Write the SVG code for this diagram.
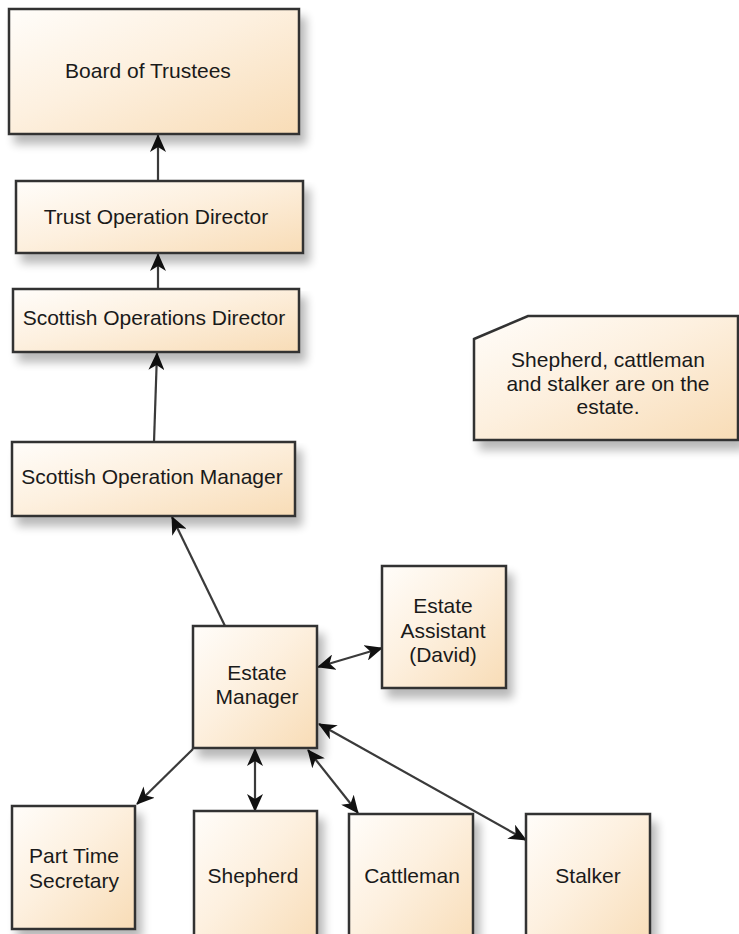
<svg xmlns="http://www.w3.org/2000/svg" width="739" height="934" viewBox="0 0 739 934">
  <defs>
    <linearGradient id="fill" x1="0" y1="0" x2="1" y2="1">
      <stop offset="0" stop-color="#fffdfa"/>
      <stop offset="0.45" stop-color="#fdf0df"/>
      <stop offset="1" stop-color="#f8dcb6"/>
    </linearGradient>
    <filter id="shadow" x="-10%" y="-10%" width="130%" height="140%">
      <feGaussianBlur in="SourceAlpha" stdDeviation="5"/>
      <feOffset dx="6" dy="9" result="b"/>
      <feComponentTransfer><feFuncA type="linear" slope="0.28"/></feComponentTransfer>
      <feMerge><feMergeNode/><feMergeNode in="SourceGraphic"/></feMerge>
    </filter>
    <marker id="arr" viewBox="0 0 18 16" refX="17" refY="8" markerWidth="18" markerHeight="16" markerUnits="userSpaceOnUse" orient="auto-start-reverse">
      <path d="M0,0 L18,8 L0,16 L5,8 z" fill="#111"/>
    </marker>
  </defs>
  <style>
    .box { fill: url(#fill); stroke: #333; stroke-width: 2.5; filter: url(#shadow); }
    .lbl { font-family: "Liberation Sans", Arial, sans-serif; font-size: 21px; fill: #1a1a1a; text-anchor: middle; }
    .con { stroke: #3a3a3a; stroke-width: 2.2; fill: none; }
  </style>
  <rect width="739" height="934" fill="#fff"/>

  <g id="connectors">
    <line class="con" x1="158" y1="181" x2="158" y2="135" marker-end="url(#arr)"/>
    <line class="con" x1="158" y1="289" x2="158" y2="254" marker-end="url(#arr)"/>
    <line class="con" x1="154" y1="442" x2="157" y2="353" marker-end="url(#arr)"/>
    <line class="con" x1="225" y1="626" x2="172" y2="517" marker-end="url(#arr)"/>
    <line class="con" x1="318" y1="667" x2="382" y2="648" marker-start="url(#arr)" marker-end="url(#arr)"/>
    <line class="con" x1="193" y1="749" x2="137" y2="804" marker-end="url(#arr)"/>
    <line class="con" x1="255" y1="749" x2="255" y2="811" marker-start="url(#arr)" marker-end="url(#arr)"/>
    <line class="con" x1="308" y1="750" x2="358" y2="813" marker-start="url(#arr)" marker-end="url(#arr)"/>
    <line class="con" x1="319" y1="724" x2="526" y2="840" marker-start="url(#arr)" marker-end="url(#arr)"/>
  </g>

  <g id="board">
    <rect class="box" x="9" y="9" width="290" height="125"/>
    <text class="lbl" x="148" y="78">Board of Trustees</text>
  </g>
  <g id="trust-director">
    <rect class="box" x="16" y="181" width="287" height="72"/>
    <text class="lbl" x="156" y="224">Trust Operation Director</text>
  </g>
  <g id="scottish-director">
    <rect class="box" x="13" y="289" width="286" height="63"/>
    <text class="lbl" x="154" y="325">Scottish Operations Director</text>
  </g>
  <g id="scottish-manager">
    <rect class="box" x="12" y="442" width="283" height="74"/>
    <text class="lbl" x="152" y="484">Scottish Operation Manager</text>
  </g>
  <g id="note">
    <path class="box" d="M474,339 L528,316 L738,316 L738,440 L474,440 Z"/>
    <text class="lbl" x="608" y="367">Shepherd, cattleman</text>
    <text class="lbl" x="608" y="391">and stalker are on the</text>
    <text class="lbl" x="608" y="414">estate.</text>
  </g>
  <g id="estate-manager">
    <rect class="box" x="193" y="626" width="124" height="122"/>
    <text class="lbl" x="257" y="680">Estate</text>
    <text class="lbl" x="257" y="704">Manager</text>
  </g>
  <g id="estate-assistant">
    <rect class="box" x="382" y="566" width="124" height="122"/>
    <text class="lbl" x="443" y="613">Estate</text>
    <text class="lbl" x="443" y="638">Assistant</text>
    <text class="lbl" x="443" y="662">(David)</text>
  </g>
  <g id="secretary">
    <rect class="box" x="12" y="806" width="123" height="123"/>
    <text class="lbl" x="74" y="863">Part Time</text>
    <text class="lbl" x="74" y="888">Secretary</text>
  </g>
  <g id="shepherd">
    <rect class="box" x="194" y="811" width="123" height="140"/>
    <text class="lbl" x="253" y="883">Shepherd</text>
  </g>
  <g id="cattleman">
    <rect class="box" x="349" y="814" width="124" height="140"/>
    <text class="lbl" x="412" y="883">Cattleman</text>
  </g>
  <g id="stalker">
    <rect class="box" x="526" y="814" width="124" height="140"/>
    <text class="lbl" x="588" y="883">Stalker</text>
  </g>
</svg>
